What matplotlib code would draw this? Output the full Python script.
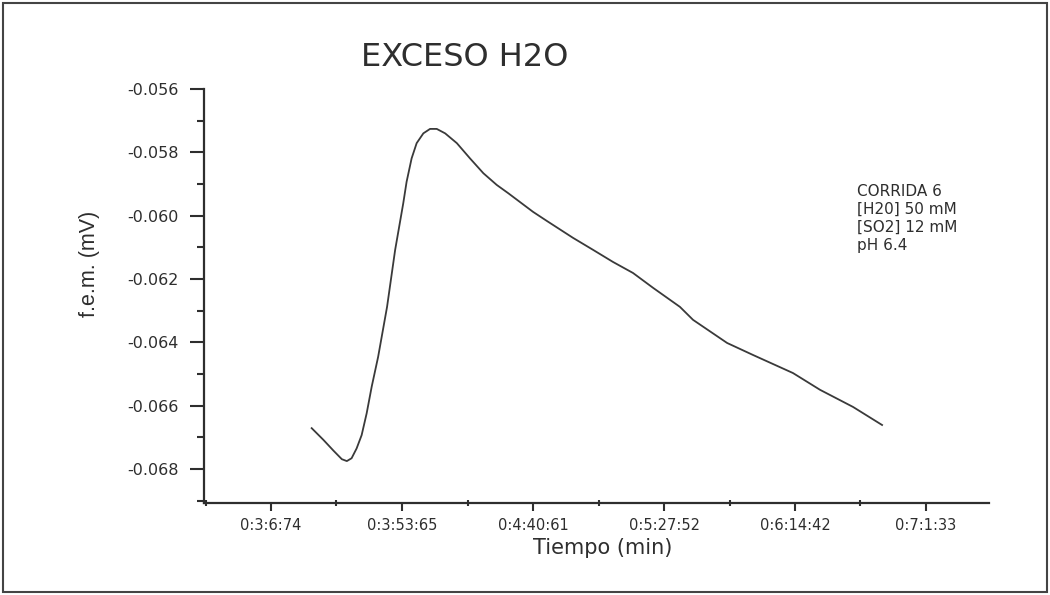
import numpy as np
import matplotlib
matplotlib.use("Agg")
import matplotlib.pyplot as plt
from matplotlib.patches import Rectangle
from matplotlib.ticker import FixedLocator, MultipleLocator

# time in seconds, f.e.m. in mV
tiempo_s = [201.3, 205.5, 209.1, 212.1, 213.9, 215.6, 217.4, 219.2, 221.0, 222.8,
            225.1, 228.3, 231.2, 234.1, 235.3, 237.1, 238.9, 241.3, 243.7, 246.1,
            249.1, 253.3, 258.0, 262.8, 267.6, 271.7, 280.6, 285.6, 294.9, 302.1,
            309.2, 316.4, 323.6, 333.2, 337.9, 350.1, 359.4, 373.7, 383.4, 395.2,
            405.6]
fem_mv = [-0.06671, -0.06708, -0.06742, -0.06769, -0.06775, -0.06766, -0.06735,
          -0.06693, -0.06624, -0.06540, -0.06446, -0.06288, -0.06108, -0.05961,
          -0.05893, -0.05819, -0.05771, -0.05740, -0.05726, -0.05726, -0.05740,
          -0.05771, -0.05819, -0.05866, -0.05903, -0.05929, -0.05988, -0.06017,
          -0.06070, -0.06108, -0.06146, -0.06181, -0.06228, -0.06288, -0.06329,
          -0.06402, -0.06440, -0.06497, -0.06550, -0.06604, -0.06661]

xtick_s = [186.74, 233.65, 280.61, 327.52, 374.42, 421.33]
xtick_labels = ["0:3:6:74", "0:3:53:65", "0:4:40:61", "0:5:27:52", "0:6:14:42", "0:7:1:33"]
ytick_vals = [-0.068, -0.066, -0.064, -0.062, -0.060, -0.058, -0.056]

info = "CORRIDA 6\n[H20] 50 mM\n[SO2] 12 mM\npH 6.4"

ink = "#2e2e2e"
plt.rcParams["font.family"] = ["DejaVu Sans"]

fig = plt.figure(figsize=(10.5, 5.95), dpi=100)
ax = fig.add_axes([0.1943, 0.1546, 0.7476, 0.6958])

ax.plot(tiempo_s, fem_mv, color="#3a3a3a", linewidth=1.3)

ax.set_xlim(162.74, 443.9)
ax.set_ylim(-0.069074, -0.056)

ax.xaxis.set_major_locator(FixedLocator(xtick_s))
ax.set_xticklabels(xtick_labels)
ax.xaxis.set_minor_locator(FixedLocator([x - 23.46 for x in xtick_s] + [xtick_s[-1] + 23.46]))
ax.yaxis.set_major_locator(FixedLocator(ytick_vals))
ax.set_yticklabels(["%.3f" % v for v in ytick_vals])
ax.yaxis.set_minor_locator(MultipleLocator(0.001))

for side in ["top", "right"]:
    ax.spines[side].set_visible(False)
for side in ["left", "bottom"]:
    ax.spines[side].set_linewidth(1.6)
    ax.spines[side].set_color(ink)

ax.tick_params(axis="y", which="major", direction="out", length=10, width=1.5,
               pad=8, labelsize=11.5, colors=ink)
ax.tick_params(axis="y", which="minor", direction="out", length=5, width=1.5, colors=ink)
ax.tick_params(axis="x", which="major", direction="out", length=6, width=1.5,
               pad=5, labelsize=10.5, colors=ink)
ax.tick_params(axis="x", which="minor", direction="inout", length=5, width=1.5, colors=ink)

ax.set_xlabel("Tiempo (min)", fontsize=15, color=ink)
ax.xaxis.set_label_coords(0.508, -0.085)
ax.set_ylabel("f.e.m. (mV)", fontsize=15.5, color=ink, family="Liberation Sans")
ax.yaxis.set_label_coords(-0.1325, 0.577)

fig.text(465 / 1050, 1 - 57 / 595, "EXCESO H2O", fontsize=23, color=ink,
         ha="center", va="center")
fig.text(857 / 1050, 1 - 184 / 595, info, fontsize=11, color=ink,
         ha="left", va="top", linespacing=1.25)

fig.patches.append(Rectangle((3 / 1050, 3 / 595), 1044 / 1050, 589 / 595,
                             transform=fig.transFigure, fill=False,
                             edgecolor="#444444", linewidth=1.5))

fig.savefig("out.png", dpi=100)
